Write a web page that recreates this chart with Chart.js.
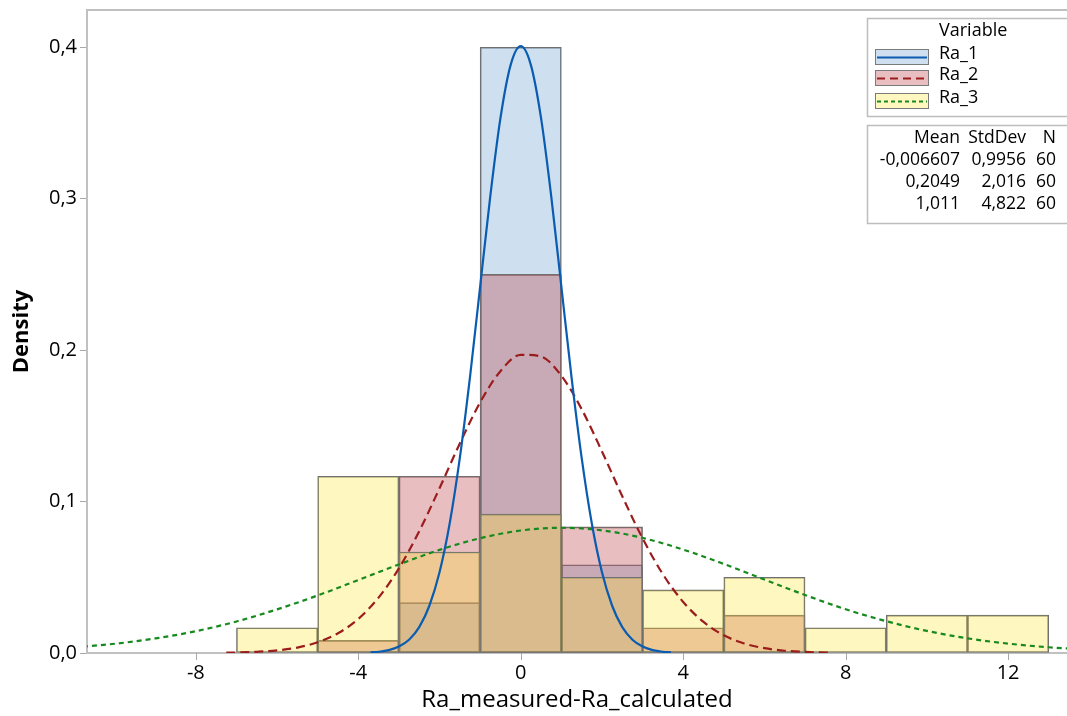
<!DOCTYPE html>
<html>
<head>
<meta charset="utf-8">
<script src="https://cdn.jsdelivr.net/npm/chart.js@4"></script>
<style>
  html, body { margin: 0; padding: 0; background: #fff; }
  #wrap { width: 1067px; height: 716px; }
</style>
</head>
<body>
<div id="wrap"><canvas id="histChart" width="1067" height="716"></canvas></div>
<script>
// histogram bins (width 2), densities
const binCenters = [-6, -4, -2, 0, 2, 4, 6, 8, 10, 12];
const ra1Density = [0, 0, 0.0333, 0.4, 0.0583, 0, 0, 0, 0, 0];
const ra2Density = [0, 0.0083, 0.1167, 0.25, 0.0833, 0.0167, 0.025, 0, 0, 0];
const ra3Density = [0.0167, 0.1167, 0.0667, 0.0917, 0.05, 0.0417, 0.05, 0.0167, 0.025, 0.025];

// fitted normal curves
const ra1CurveX = [-3.7, -3.5, -3.25, -3, -2.75, -2.5, -2.25, -2, -1.75, -1.5, -1.25, -1, -0.75, -0.5, -0.25, 0,
    0.25, 0.5, 0.75, 1, 1.25, 1.5, 1.75, 2, 2.25, 2.5, 2.75, 3, 3.25, 3.5, 3.7];
const ra1CurveY = [0.0004, 0.0008, 0.0019, 0.0043, 0.0088, 0.0171, 0.0312, 0.0533, 0.0855, 0.1288, 0.1822, 0.242, 0.3017, 0.3532, 0.3882, 0.4007,
    0.3882, 0.3532, 0.3017, 0.242, 0.1822, 0.1288, 0.0855, 0.0533, 0.0312, 0.0171, 0.0088, 0.0043, 0.0019, 0.0008, 0.0004];

const ra2CurveX = [-7.25, -7, -6.5, -6, -5.5, -5, -4.5, -4, -3.5, -3, -2.5, -2, -1.5, -1, -0.5, 0, 0.5,
    1, 1.5, 2, 2.5, 3, 3.5, 4, 4.5, 5, 5.5, 6, 6.5, 7, 7.5, 7.66];
const ra2CurveY = [0.0002, 0.0003, 0.0008, 0.0017, 0.0036, 0.0071, 0.013, 0.0225, 0.0366, 0.0559, 0.0804, 0.1088, 0.1384, 0.1655, 0.1861, 0.1969, 0.1958,
    0.1831, 0.161, 0.1331, 0.1035, 0.0757, 0.052, 0.0337, 0.0205, 0.0117, 0.0063, 0.0032, 0.0015, 0.0007, 0.0003, 0.0002];

const ra3CurveX = [-11, -10, -9, -8, -7, -6, -5, -4, -3, -2, -1, 0, 1, 2, 3, 4, 5, 6, 7, 8, 9, 10, 11, 12, 13, 14];
const ra3CurveY = [0.0037, 0.0061, 0.0096, 0.0144, 0.0208, 0.0288, 0.038, 0.0482, 0.0585, 0.0681, 0.0758, 0.0809, 0.0827,
    0.081, 0.076, 0.0683, 0.0588, 0.0485, 0.0383, 0.0289, 0.021, 0.0146, 0.0097, 0.0062, 0.0038, 0.0022];

const xTicks = [-8, -4, 0, 4, 8, 12];
const yTicks = [0, 0.1, 0.2, 0.3, 0.4];
const yTickLabels = ['0,0', '0,1', '0,2', '0,3', '0,4'];

const seriesNames = ['Ra_1', 'Ra_2', 'Ra_3'];
const statHeader = ['Mean', 'StdDev', 'N'];
const statMean = ['-0,006607', '0,2049', '1,011'];
const statStdDev = ['0,9956', '2,016', '4,822'];
const statN = ['60', '60', '60'];

const FONT = "'Open Sans', 'Noto Sans', sans-serif";
const fills = ['rgba(115,164,212,0.35)', 'rgba(189,69,75,0.35)', 'rgba(255,228,48,0.3)'];
const lineColors = ['#0a5cb0', '#9b1c1c', '#178a1e'];
const dashes = [[], [9, 5], [5, 4]];

function toBars(vals) {
    return binCenters.map((c, i) => ({ x: c, y: vals[i] ? vals[i] : null }));
}
function toLine(xs, ys) {
    return xs.map((x, i) => ({ x: x, y: ys[i] }));
}

function barSet(i, vals, order) {
    return {
        type: 'bar',
        label: seriesNames[i],
        data: toBars(vals),
        backgroundColor: fills[i],
        borderColor: '#707070',
        borderWidth: 1,
        borderSkipped: false,
        barPercentage: 1,
        categoryPercentage: 1,
        grouped: false,
        order: order
    };
}
function lineSet(i, xs, ys) {
    return {
        type: 'line',
        label: seriesNames[i] + ' fit',
        data: toLine(xs, ys),
        borderColor: lineColors[i],
        borderWidth: 2.2,
        borderDash: dashes[i],
        pointRadius: 0,
        fill: false,
        cubicInterpolationMode: 'monotone',
        order: 0
    };
}

const framePlugin = {
    id: 'frameAndLegend',
    afterDraw(chart) {
        const ctx = chart.ctx;
        const area = chart.chartArea;
        ctx.save();
        // top frame line
        ctx.strokeStyle = '#c0c0c0';
        ctx.lineWidth = 2;
        ctx.beginPath();
        ctx.moveTo(area.left, area.top);
        ctx.lineTo(area.right, area.top);
        ctx.stroke();

        // x tick marks below the axis
        const xs = chart.scales.x;
        ctx.strokeStyle = '#a8a8a8';
        ctx.lineWidth = 1;
        xTicks.forEach(v => {
            const px = Math.round(xs.getPixelForValue(v)) + 0.5;
            ctx.beginPath();
            ctx.moveTo(px, area.bottom);
            ctx.lineTo(px, area.bottom + 7);
            ctx.stroke();
        });

        // legend box
        ctx.fillStyle = '#fff';
        ctx.lineWidth = 1.5;
        ctx.strokeStyle = '#bdbdbd';
        ctx.fillRect(867, 18, 210, 99);
        ctx.strokeRect(867.5, 18.5, 210, 98);
        ctx.fillRect(867, 125, 210, 98);
        ctx.strokeRect(867.5, 125.5, 210, 98);

        ctx.fillStyle = '#000';
        ctx.font = '18px ' + FONT;
        ctx.textBaseline = 'middle';
        ctx.textAlign = 'left';
        ctx.fillText('Variable', 939, 31);

        const rowY = [57, 78, 101];
        for (let i = 0; i < 3; i++) {
            const y = rowY[i];
            ctx.fillStyle = '#fff';
            ctx.fillRect(875, y - 7, 53, 15);
            ctx.fillStyle = fills[i];
            ctx.fillRect(875, y - 7, 53, 15);
            ctx.strokeStyle = '#7a7a7a';
            ctx.lineWidth = 1;
            ctx.strokeRect(875.5, y - 7.5, 53, 15);
            ctx.strokeStyle = lineColors[i];
            ctx.lineWidth = 2;
            ctx.setLineDash(i === 1 ? [8, 5] : i === 2 ? [4, 3] : []);
            ctx.beginPath();
            ctx.moveTo(877, y + 0.5);
            ctx.lineTo(927, y + 0.5);
            ctx.stroke();
            ctx.setLineDash([]);
            ctx.fillStyle = '#000';
            ctx.fillText(seriesNames[i], 939, y - 3);
        }

        // stats table
        ctx.textAlign = 'right';
        ctx.font = '17.5px ' + FONT;
        const cols = [960, 1026, 1056];
        ctx.fillText(statHeader[0], cols[0], 138);
        ctx.fillText(statHeader[1], cols[1], 138);
        ctx.fillText(statHeader[2], cols[2], 138);
        const statY = [160, 182, 204];
        for (let i = 0; i < 3; i++) {
            ctx.fillText(statMean[i], cols[0], statY[i]);
            ctx.fillText(statStdDev[i], cols[1], statY[i]);
            ctx.fillText(statN[i], cols[2], statY[i]);
        }
        ctx.restore();
    }
};

const ctx = document.getElementById('histChart').getContext('2d');
const histChart = new Chart(ctx, {
    data: {
        datasets: [
            lineSet(0, ra1CurveX, ra1CurveY),
            lineSet(1, ra2CurveX, ra2CurveY),
            lineSet(2, ra3CurveX, ra3CurveY),
            barSet(2, ra3Density, 1),
            barSet(1, ra2Density, 2),
            barSet(0, ra1Density, 3)
        ]
    },
    options: {
        responsive: false,
        animation: false,
        devicePixelRatio: 1,
        layout: { padding: { top: 10, right: 0, left: 0, bottom: 0 } },
        plugins: {
            legend: { display: false },
            tooltip: { enabled: false }
        },
        scales: {
            x: {
                type: 'linear',
                min: -10.68,
                max: 13.45,
                offset: false,
                afterBuildTicks: function (scale) {
                    scale.ticks = xTicks.map(v => ({ value: v }));
                },
                afterFit: function (scale) { scale.height = 63; },
                grid: { offset: false, display: false },
                border: { display: true, color: '#c0c0c0', width: 2 },
                ticks: {
                    color: '#000',
                    padding: 0,
                    maxRotation: 0,
                    font: { family: FONT, size: 20 },
                    callback: v => String(v)
                },
                title: {
                    display: true,
                    text: 'Ra_measured-Ra_calculated',
                    color: '#000',
                    font: { family: FONT, size: 24 },
                    padding: { top: 0, bottom: 1 }
                }
            },
            y: {
                type: 'linear',
                min: 0,
                max: 0.4246,
                afterBuildTicks: function (scale) {
                    scale.ticks = yTicks.map(v => ({ value: v }));
                },
                afterFit: function (scale) {
                    scale.width = 87;
                    scale.paddingTop = 0;
                    scale.paddingBottom = 0;
                },
                grid: { drawOnChartArea: false, drawTicks: true, tickLength: 7, color: '#a8a8a8' },
                border: { color: '#c0c0c0', width: 2 },
                ticks: {
                    color: '#000',
                    padding: 3,
                    font: { family: FONT, size: 20 },
                    callback: function (v) {
                        const i = yTicks.indexOf(v);
                        return i >= 0 ? yTickLabels[i] : '';
                    }
                },
                title: {
                    display: true,
                    text: 'Density',
                    color: '#000',
                    font: { family: FONT, size: 22, weight: 'bold' },
                    padding: { top: 9, bottom: 0 }
                }
            }
        }
    },
    plugins: [framePlugin]
});
</script>
</body>
</html>
